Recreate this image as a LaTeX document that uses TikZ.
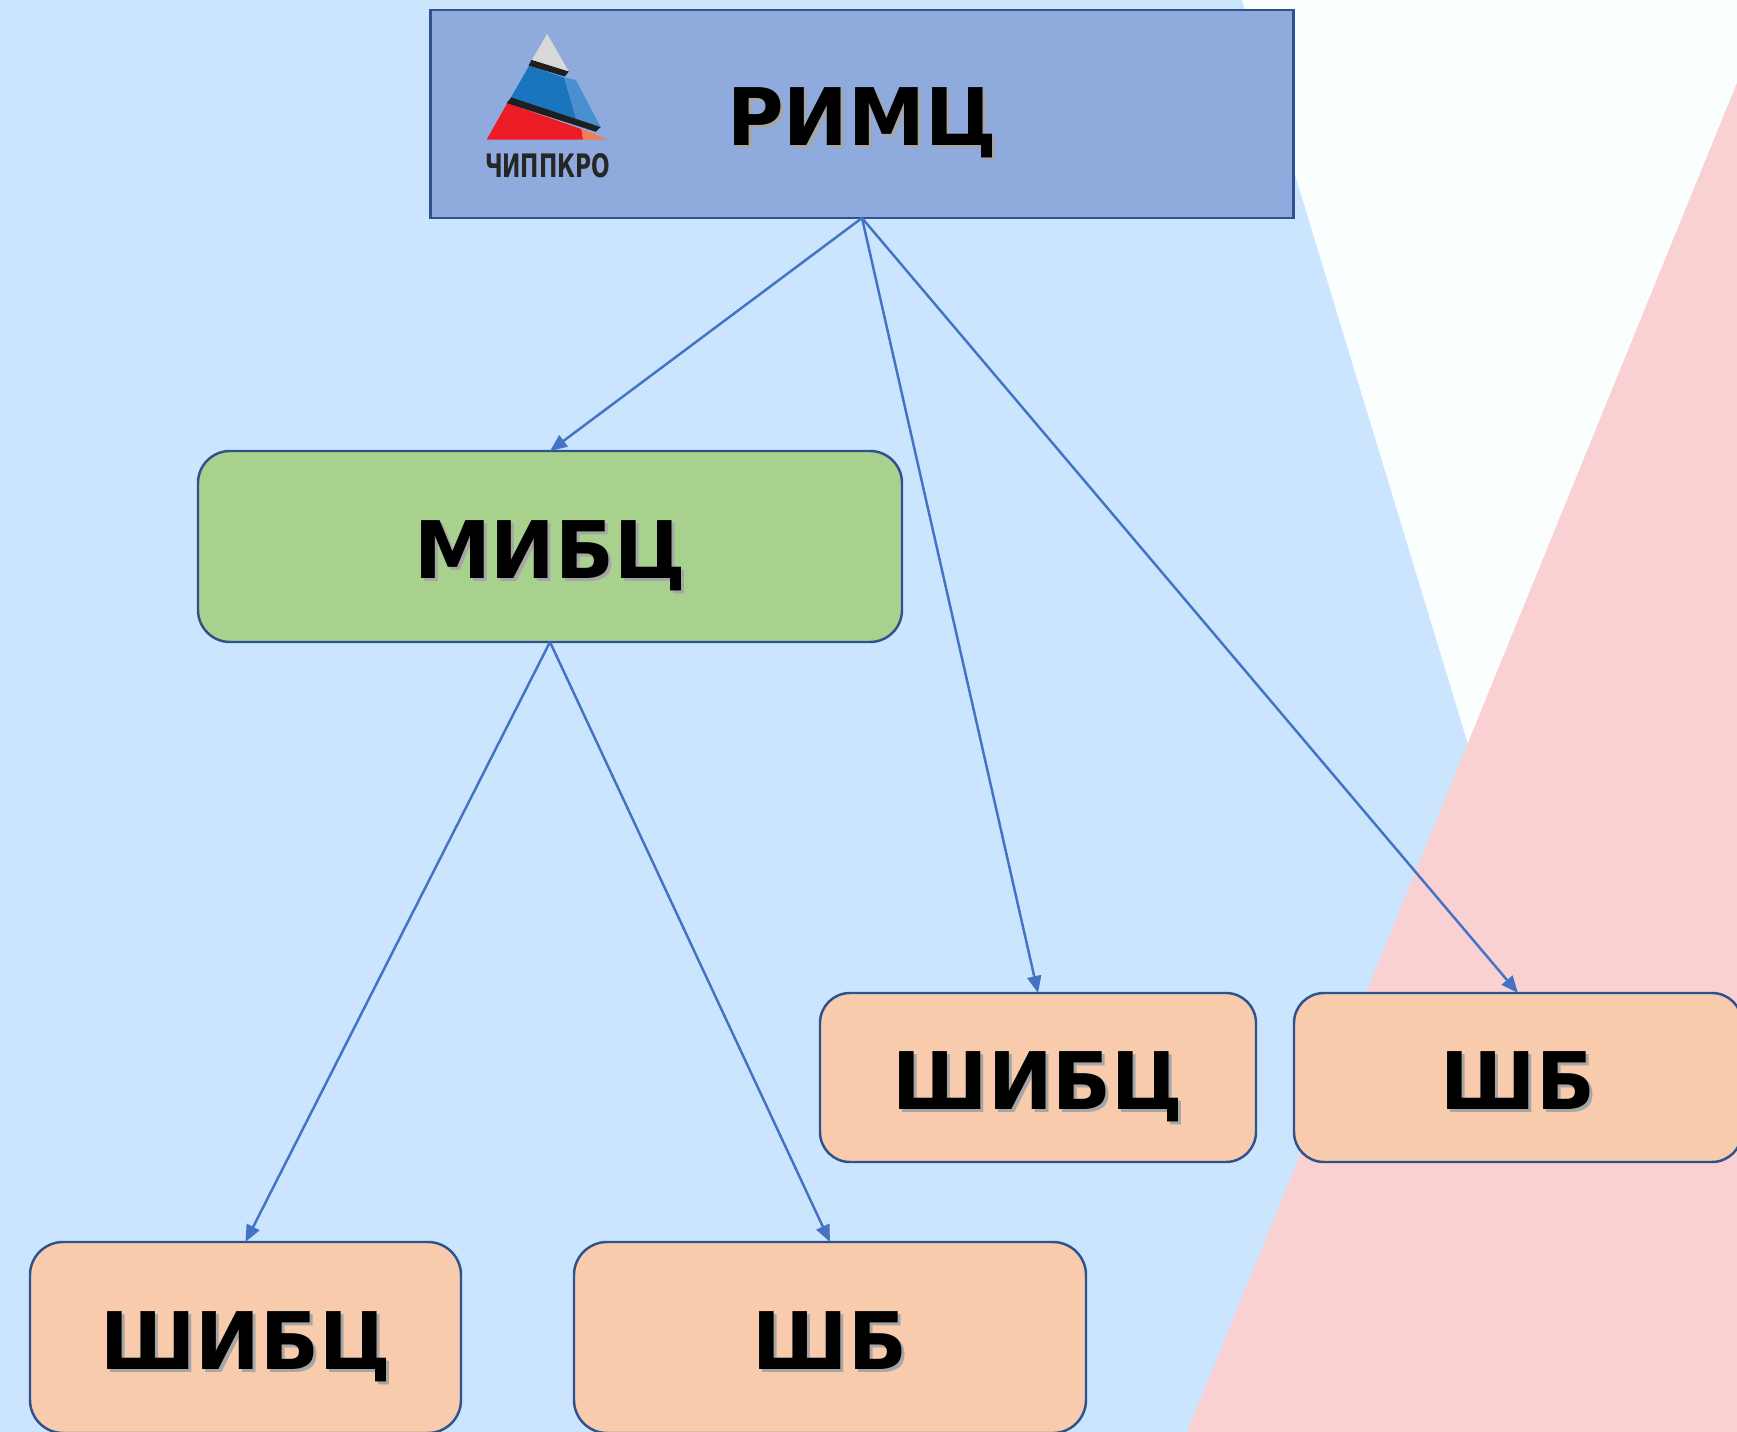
\documentclass[tikz,border=0pt]{standalone}
\usepackage{fontspec}
\setsansfont{DejaVu Sans}[FakeStretch=0.972]
\usepackage{tikz}
\usetikzlibrary{backgrounds,arrows.meta}
\definecolor{skyBack}{HTML}{CBE5FF}
\definecolor{whiteBack}{HTML}{FBFEFF}
\definecolor{pinkBack}{HTML}{F9D1D3}
\definecolor{headFill}{HTML}{8FAADC}
\definecolor{greenFill}{HTML}{A9D18E}
\definecolor{peachFill}{HTML}{F8CBAD}
\definecolor{boxEdge}{HTML}{2F528F}
\definecolor{linkBlue}{HTML}{4472C4}
\newcommand{\dropText}[1]{\leavevmode\rlap{\hspace{0.03cm}\raisebox{-0.03cm}{\textcolor{black!35}{#1}}}#1}
\tikzstyle{levelNode}=[draw=boxEdge, line width=0.7pt, inner sep=0pt, outer sep=0pt, font=\sffamily\bfseries\fontsize{22.6}{26}\selectfont, text height=0.64cm, text depth=0pt, text centered]
\tikzstyle{headNode}=[levelNode, fill=headFill, minimum width=8.63cm, minimum height=2.08cm]
\tikzstyle{midNode}=[levelNode, fill=greenFill, rounded corners=0.32cm, minimum width=7.04cm, minimum height=1.91cm]
\tikzstyle{schoolNode}=[levelNode, fill=peachFill, rounded corners=0.3cm, minimum height=1.69cm]
\tikzstyle{lowNode}=[levelNode, fill=peachFill, rounded corners=0.33cm, minimum height=1.91cm]
\tikzstyle{link}=[draw=linkBlue, line width=0.7pt, -{Triangle[length=0.17cm,width=0.14cm]}]

\begin{document}
\begin{tikzpicture}[scale=1]
\useasboundingbox (0,0) rectangle (17.37,-14.32);
\node (rimc) [headNode] at (8.62,-1.14) {\dropText{РИМЦ}};
\path (rimc)+(-3.12, -4.325) node (mibc) [midNode] {\dropText{МИБЦ}};
\path (rimc)+(1.76, -9.635) node (shibcRight) [schoolNode, minimum width=4.36cm] {\dropText{ШИБЦ}};
\path (shibcRight)+(4.80, 0) node (shbRight) [schoolNode, minimum width=4.48cm] {\dropText{ШБ}};
\path (mibc)+(-3.045, -7.91) node (shibcLeft) [lowNode, minimum width=4.31cm] {\dropText{ШИБЦ}};
\path (mibc)+(2.80, -7.91) node (shbLeft) [lowNode, minimum width=5.12cm] {\dropText{ШБ}};
\draw[link] (rimc.south) -- (mibc.north);
\draw[link] (rimc.south) -- (shibcRight.north);
\draw[link] (rimc.south) -- (shbRight.north);
\draw[link] (mibc.south) -- (shibcLeft.north);
\draw[link] (mibc.south) -- (shbLeft.north);

% logo, in steps of a third of a pixel
\begin{scope}[shift={(4.70,-0.20)}, x=0.00333cm, y=-0.00333cm]
\fill[fill=black!15] (232,42) -- (297,155) -- (185,122) -- cycle;
\fill[fill={rgb,255:red,27;green,117;blue,190}] (178,137) -- (283,173) -- (320,298) -- (122,235) -- cycle;
\fill[fill={rgb,255:red,74;green,144;blue,208}] (283,173) -- (318,180) -- (393,322) -- (320,298) -- cycle;
\fill[fill={rgb,255:red,237;green,28;blue,36}] (112,250) -- (335,328) -- (340,360) -- (50,360) -- cycle;
\fill[fill={rgb,255:red,244;green,124;blue,80}] (335,328) -- (362,338) -- (415,360) -- (340,360) -- cycle;
\fill[fill=black!88] (185,120) -- (297,155) -- (285,170) -- (176,137) -- cycle;
\fill[fill=black!88] (124,233) -- (393,322) -- (378,336) -- (110,250) -- cycle;
\node (logoText) [inner sep=0pt, text=black!85, font=\sffamily\bfseries] at (233,437) {\resizebox{1.25cm}{0.24cm}{ЧИППКРО}};
\end{scope}

\begin{scope}[on background layer]
\fill[fill=skyBack] (0,0) rectangle (17.37,-14.32);
\fill[fill=whiteBack] (12.42,0) -- (17.37,0) -- (17.37,-0.83) -- (14.68,-7.44) -- cycle;
\fill[fill=pinkBack] (17.37,-0.83) -- (17.37,-14.32) -- (11.87,-14.32) -- cycle;
\end{scope}
\end{tikzpicture}
\end{document}
